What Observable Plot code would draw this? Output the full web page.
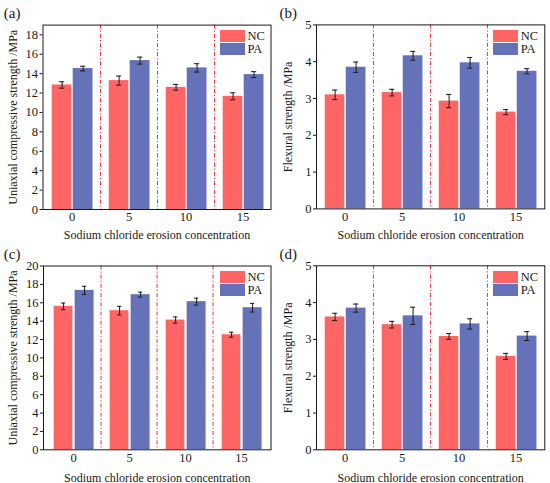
<!DOCTYPE html>
<html>
<head>
<meta charset="utf-8">
<script src="https://cdn.jsdelivr.net/npm/d3@7"></script>
<script src="https://cdn.jsdelivr.net/npm/@observablehq/plot@0.6"></script>
<style>
  html, body { margin: 0; padding: 0; background: #fff; }
  #fig { position: relative; width: 550px; height: 483px; font-family: "Liberation Serif", "Times New Roman", serif; color: #1a1a1a; }
  .panel { position: absolute; }
  .panel svg { display: block; }
  .sw { position: absolute; width: 25px; height: 12px; }
  .lt { position: absolute; font-size: 12.5px; line-height: 12px; }
</style>
</head>
<body>
<div id="fig"></div>
<script>
// ---- data ----
const concentrations = ["0", "5", "10", "15"];
const seriesNames = ["NC", "PA"];
const colors = ["#ff6565", "#6571b9"];

// (a) uniaxial compressive strength
const aNC = [12.83, 13.28, 12.59, 11.66];
const aNCerr = [0.33, 0.47, 0.30, 0.36];
const aPA = [14.52, 15.34, 14.59, 13.90];
const aPAerr = [0.24, 0.36, 0.43, 0.30];
// (b) flexural strength
const bNC = [3.10, 3.16, 2.93, 2.63];
const bNCerr = [0.13, 0.09, 0.18, 0.07];
const bPA = [3.85, 4.16, 3.97, 3.74];
const bPAerr = [0.14, 0.12, 0.145, 0.07];
// (c) uniaxial compressive strength
const cNC = [15.61, 15.14, 14.12, 12.52];
const cNCerr = [0.36, 0.47, 0.34, 0.27];
const cPA = [17.35, 16.88, 16.12, 15.46];
const cPAerr = [0.44, 0.27, 0.38, 0.47];
// (d) flexural strength
const dNC = [3.61, 3.40, 3.08, 2.54];
const dNCerr = [0.10, 0.09, 0.08, 0.08];
const dPA = [3.85, 3.64, 3.42, 3.09];
const dPAerr = [0.11, 0.235, 0.14, 0.12];

const ticksUCS19 = [0, 2, 4, 6, 8, 10, 12, 14, 16, 18];
const ticksUCS20 = [0, 2, 4, 6, 8, 10, 12, 14, 16, 18, 20];
const ticksFlex = [0, 1, 2, 3, 4, 5];
const separators = ["5", "10", "15"];

const xLabel = "Sodium chloride erosion concentration";
const ucsLabel = "Uniaxial compressive strength /MPa";
const flexLabel = "Flexural strength /MPa";

function rows(values, errs, name) {
  return concentrations.map((c, i) => ({conc: c, series: name, value: values[i], err: errs[i]}));
}

const fig = document.getElementById("fig");

function panel(cfg) {
  const {left, top, width, height, mL, mR, mT, mB, yDomain, yTicks, ylabel, tag, nc, ncErr, pa, paErr, legLeft, legTop, tagDx, ylDx} = cfg;
  const B = (width - mL - mR) / concentrations.length;
  const ncRows = rows(nc, ncErr, seriesNames[0]);
  const paRows = rows(pa, paErr, seriesNames[1]);
  const ncC = -9.9, paC = 11.1, cap = 2.6;
  const ink = "#1a1a1a";
  const errMarks = (data, off) => [
    Plot.ruleX(data, {x: "conc", y1: d => d.value - d.err, y2: d => d.value + d.err, dx: off, stroke: ink, strokeWidth: 1}),
    Plot.tickY(data, {x: "conc", y: d => d.value + d.err, insetLeft: B / 2 + off - cap, insetRight: B / 2 - off - cap, stroke: ink, strokeWidth: 1}),
    Plot.tickY(data, {x: "conc", y: d => d.value - d.err, insetLeft: B / 2 + off - cap, insetRight: B / 2 - off - cap, stroke: ink, strokeWidth: 1})
  ];
  const chart = Plot.plot({
    width, height,
    marginLeft: mL, marginRight: mR, marginTop: mT, marginBottom: mB,
    style: {fontFamily: '"Liberation Serif", "Times New Roman", serif', fontSize: "12.5px", color: ink, background: "transparent", overflow: "visible"},
    x: {type: "band", domain: concentrations, padding: 0, tickSize: 0, tickPadding: 3, label: null},
    y: {domain: yDomain, ticks: yTicks, tickFormat: d3.format("d"), tickSize: 3, tickPadding: 2, label: null},
    marks: [
      Plot.ruleX(separators, {x: d => d, dx: -B / 2, stroke: "#ff2f2f", strokeWidth: 1, strokeDasharray: "4,2,1.2,2"}),
      Plot.barY(ncRows, {x: "conc", y: "value", fill: colors[0], insetLeft: B / 2 - 19.8, insetRight: B / 2 + 0.2}),
      Plot.barY(paRows, {x: "conc", y: "value", fill: colors[1], insetLeft: B / 2 + 1.2, insetRight: B / 2 - 21}),
      ...errMarks(ncRows, ncC),
      ...errMarks(paRows, paC),
      Plot.frame({stroke: ink, strokeWidth: 1}),
      Plot.text([xLabel], {frameAnchor: "bottom", dy: mB - 2, textAnchor: "middle", lineAnchor: "bottom", fontSize: 12, fill: ink}),
      Plot.text([ylabel], {frameAnchor: "left", rotate: -90, dx: ylDx, textAnchor: "middle", lineAnchor: "middle", fontSize: 12, fill: ink}),
      Plot.text([tag], {frameAnchor: "top-left", dx: tagDx, dy: -11.8, textAnchor: "start", lineAnchor: "middle", fontSize: 15, fill: ink})
    ]
  });
  const div = document.createElement("div");
  div.className = "panel";
  div.style.left = left + "px";
  div.style.top = top + "px";
  div.style.width = width + "px";
  div.style.height = height + "px";
  div.appendChild(chart);
  seriesNames.forEach((name, i) => {
    const sw = document.createElement("div");
    sw.className = "sw";
    sw.style.left = legLeft + "px";
    sw.style.top = (legTop + i * 13.3) + "px";
    sw.style.background = colors[i];
    div.appendChild(sw);
    const t = document.createElement("div");
    t.className = "lt";
    t.textContent = name;
    t.style.left = (legLeft + 27.5) + "px";
    t.style.top = (legTop + i * 13.3) + "px";
    div.appendChild(t);
  });
  fig.appendChild(div);
}

panel({left: 0, top: 0, width: 275, height: 240, mL: 42.5, mR: 4.5, mT: 24.6, mB: 31, yDomain: [0, 19], yTicks: ticksUCS19, ylabel: ucsLabel, tag: "(a)", nc: aNC, ncErr: aNCerr, pa: aPA, paErr: aPAerr, legLeft: 220, legTop: 30, tagDx: -39.2, ylDx: -29.5});
panel({left: 275, top: 0, width: 275, height: 240, mL: 41, mR: 5.7, mT: 24.4, mB: 31.6, yDomain: [0, 5], yTicks: ticksFlex, ylabel: flexLabel, tag: "(b)", nc: bNC, ncErr: bNCerr, pa: bPA, paErr: bPAerr, legLeft: 218.3, legTop: 30, tagDx: -37, ylDx: -28});
panel({left: 0, top: 240, width: 275, height: 243, mL: 43, mR: 4.5, mT: 25.5, mB: 33.7, yDomain: [0, 20], yTicks: ticksUCS20, ylabel: ucsLabel, tag: "(c)", nc: cNC, ncErr: cNCerr, pa: cPA, paErr: cPAerr, legLeft: 220, legTop: 30.7, tagDx: -39.7, ylDx: -30});
panel({left: 275, top: 240, width: 275, height: 243, mL: 41, mR: 5.7, mT: 25.3, mB: 33.7, yDomain: [0, 5], yTicks: ticksFlex, ylabel: flexLabel, tag: "(d)", nc: dNC, ncErr: dNCerr, pa: dPA, paErr: dPAerr, legLeft: 218.3, legTop: 31, tagDx: -37, ylDx: -28});
</script>
</body>
</html>
